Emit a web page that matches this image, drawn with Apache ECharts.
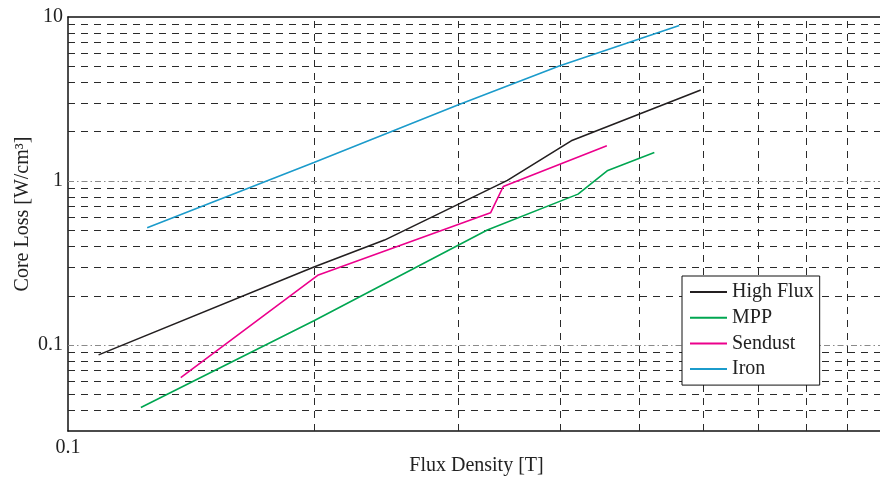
<!DOCTYPE html>
<html>
<head>
<meta charset="utf-8">
<script src="https://cdn.jsdelivr.net/npm/echarts@6/dist/echarts.min.js"></script>
<style>
  html, body { margin: 0; padding: 0; background: #fff; }
  #chart { width: 880px; height: 478px; }
</style>
</head>
<body>
<div id="chart"></div>
<script>
// Core loss vs. flux density for four powder core materials (log-log)
const highFluxB    = [0.109, 0.2, 0.244, 0.345, 0.413, 0.595];
const highFluxLoss = [0.0873, 0.30, 0.437, 1.01, 1.76, 3.59];

const mppB    = [0.1228, 0.2, 0.326, 0.421, 0.457, 0.522];
const mppLoss = [0.0417, 0.141, 0.503, 0.833, 1.155, 1.494];

const sendustB    = [0.1374, 0.2025, 0.329, 0.341, 0.4566];
const sendustLoss = [0.0634, 0.268, 0.641, 0.927, 1.64];

const ironB    = [0.125, 0.2, 0.3, 0.4, 0.560];
const ironLoss = [0.519, 1.30, 2.91, 5.05, 8.89];

const seriesNames = ['High Flux', 'MPP', 'Sendust', 'Iron'];
const seriesColors = ['#231f20', '#00a651', '#ec008c', '#1b9bcb'];

// grid positions
const xMinorGrid = [0.2, 0.3, 0.4, 0.5, 0.6, 0.7, 0.8, 0.9];
const yMinorGrid = [0.04, 0.05, 0.06, 0.07, 0.08, 0.09,
                    0.2, 0.3, 0.4, 0.5, 0.6, 0.7, 0.8, 0.9,
                    2, 3, 4, 5, 6, 7, 8, 9];
const yMajorGrid = [0.1, 1];

const FONT = '"Liberation Serif", "Times New Roman", serif';

function pairs(xs, ys) { return xs.map((x, i) => [x, ys[i]]); }

function decadeLabel(v) {
  const l = Math.log10(v);
  if (Math.abs(l - Math.round(l)) > 1e-6) return '';
  const p = Math.round(l);
  return p >= 0 ? String(Math.pow(10, p)) : (Math.pow(10, p)).toFixed(-p);
}

const minorStyle = { color: '#2a2a2a', width: 1, type: [7, 6] };
const majorStyle = { color: '#8a8a8a', width: 1, type: [6, 3, 1.5, 3] };

const gridLines = []
  .concat(xMinorGrid.map(v => ({ xAxis: v, lineStyle: minorStyle })))
  .concat(yMinorGrid.map(v => ({ yAxis: v, lineStyle: minorStyle })))
  .concat(yMajorGrid.map(v => ({ yAxis: v, lineStyle: majorStyle })));

const lineSeries = [
  pairs(highFluxB, highFluxLoss),
  pairs(mppB, mppLoss),
  pairs(sendustB, sendustLoss),
  pairs(ironB, ironLoss)
].map((d, i) => ({
  name: seriesNames[i],
  type: 'line',
  data: d,
  symbol: 'none',
  z: 5,
  lineStyle: { color: seriesColors[i], width: 1.6 },
  itemStyle: { color: seriesColors[i] }
}));

const axisLineStyle = { color: '#111', width: 1.5 };

const chart = echarts.init(document.getElementById('chart'));
chart.setOption({
  animation: false,
  backgroundColor: '#fff',
  grid: { left: 68, top: 17, width: 817, height: 414, outerBoundsMode: 'none', containLabel: false },
  xAxis: [{
    type: 'log', logBase: 10, min: 0.1, max: 1,
    name: 'Flux Density [T]', nameLocation: 'middle', nameGap: 25,
    nameMoveOverlap: false,
    nameTextStyle: { fontFamily: FONT, fontSize: 20, color: '#222' },
    axisLine: { show: true, lineStyle: axisLineStyle },
    axisTick: { show: false },
    splitLine: { show: false },
    axisLabel: { formatter: decadeLabel, fontFamily: FONT, fontSize: 20, color: '#222', margin: 7 }
  }, {
    type: 'log', logBase: 10, min: 0.1, max: 1, position: 'top',
    axisLine: { show: true, lineStyle: axisLineStyle },
    axisTick: { show: false }, axisLabel: { show: false }, splitLine: { show: false }
  }],
  yAxis: {
    type: 'log', logBase: 10, min: 0.03, max: 10,
    axisLine: { show: true, lineStyle: axisLineStyle },
    axisTick: { show: false },
    splitLine: { show: false },
    axisLabel: { formatter: decadeLabel, fontFamily: FONT, fontSize: 20, color: '#222', margin: 5 }
  },
  legend: {
    data: seriesNames,
    orient: 'vertical',
    left: 682, top: 276,
    z: 20,
    padding: [6, 6, 6, 8],
    icon: 'rect',
    itemWidth: 37, itemHeight: 2, itemGap: 5.7,
    borderColor: '#111', borderWidth: 1,
    backgroundColor: '#fff',
    textStyle: { fontFamily: FONT, fontSize: 20, color: '#222' }
  },
  graphic: [{
    type: 'text',
    x: 23, y: 214,
    rotation: Math.PI / 2,
    style: {
      text: 'Core Loss [W/cm\u00B3]',
      font: '20px ' + FONT,
      fill: '#222',
      textAlign: 'center',
      textVerticalAlign: 'middle'
    }
  }],
  series: [{
    name: 'grid',
    type: 'line',
    data: [],
    z: 1,
    markLine: {
      silent: true,
      symbol: 'none',
      label: { show: false },
      animation: false,
      data: gridLines
    }
  }].concat(lineSeries)
});
</script>
</body>
</html>
